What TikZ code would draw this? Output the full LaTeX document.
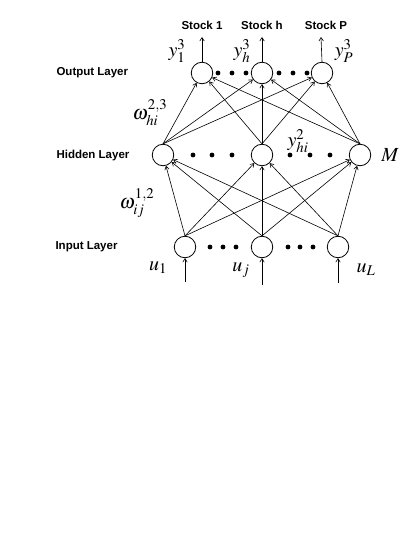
\documentclass[tikz,border=0pt]{standalone}
\usepackage{fontspec}
\usepackage{mathptmx}
\setsansfont{Liberation Sans}
\usepackage{tikz}
\usetikzlibrary{arrows.meta}
\tikzset{
  neuron/.style={draw, circle, line width=0.8pt, minimum size=21.5pt, inner sep=0pt},
  layerlabel/.style={anchor=west, font=\sffamily\bfseries\fontsize{11.5}{13}\selectfont},
  stocklabel/.style={inner sep=1pt, font=\sffamily\bfseries\fontsize{11.5}{13}\selectfont},
  mathlabel/.style={inner sep=0.5pt, font=\fontsize{20}{24}\selectfont},
  link/.style={->, line width=0.6pt},
}

\begin{document}
\begin{tikzpicture}[x=1pt, y=-1pt, >={Straight Barb[length=3.5pt,width=4.5pt]}]
    \useasboundingbox (0,0) rectangle (409,545);
    % neurons
    \node[neuron] (o1) at (202,73) {};
    \node[neuron] (oh) at (262,73) {};
    \node[neuron] (oP) at (322,73) {};
    \node[neuron] (h1) at (163,155) {};
    \node[neuron] (hi) at (262,155) {};
    \node[neuron] (hM) at (360,155) {};
    \node[neuron] (i1) at (185,247) {};
    \node[neuron] (ij) at (262,247) {};
    \node[neuron] (iL) at (338,247) {};
    % dots
    \foreach \x in {218,232,246,279,293,307} \fill (\x,73) circle (2.4pt);
    \foreach \x in {193,212,232,290,310,330} \fill (\x,155) circle (2.4pt);
    \foreach \x in {210,223,236,288,300,313} \fill (\x,247) circle (2.4pt);
    % connections
    \foreach \a in {h1,hi,hM}
      \foreach \b in {o1,oh,oP}
        \draw[link] (\a.north) -- (\b);
    \foreach \a in {i1,ij,iL}
      \foreach \b in {h1,hi,hM}
        \draw[link] (\a.north) -- (\b);
    % inputs and outputs
    \coordinate (in1) at (185,282);
    \coordinate (inj) at (262,285);
    \coordinate (inL) at (338,283);
    \draw[link] (in1) -- (i1);
    \draw[link] (inj) -- (ij);
    \draw[link] (inL) -- (iL);
    \coordinate (out1) at (202,37);
    \coordinate (outh) at (262,37);
    \coordinate (outP) at (321,37);
    \draw[link] (o1.north) -- (out1);
    \draw[link] (oh.north) -- (outh);
    \draw[link] (oP.north) -- (outP);
    % labels
    \node[stocklabel] (s1) at (202,25) {Stock 1};
    \node[stocklabel] (sh) at (262,25) {Stock h};
    \node[stocklabel] (sP) at (326,25) {Stock P};
    \node[mathlabel] (y1) at (177,51) {$y_1^3$};
    \node[mathlabel] (yh) at (242,51) {$y_h^3$};
    \node[mathlabel] (yP) at (344,51) {$y_P^3$};
    \node[layerlabel] (lo) at (53,73) {Output Layer};
    \node[layerlabel] (lh) at (53,156) {Hidden Layer};
    \node[layerlabel] (li) at (52,247) {Input Layer};
    \node[mathlabel] (w23) at (150,113) {$\omega_{hi}^{2,3}$};
    \node[mathlabel] (yhi) at (298,141) {$y_{hi}^2$};
    \node[mathlabel] (M) at (390,155) {$M$};
    \node[mathlabel] (w12) at (137,203) {$\omega_{ij}^{1,2}$};
    \node[mathlabel] (u1) at (158,268) {$u_1$};
    \node[mathlabel] (uj) at (241,270) {$u_j$};
    \node[mathlabel] (uL) at (366,270) {$u_L$};
\end{tikzpicture}
\end{document}
